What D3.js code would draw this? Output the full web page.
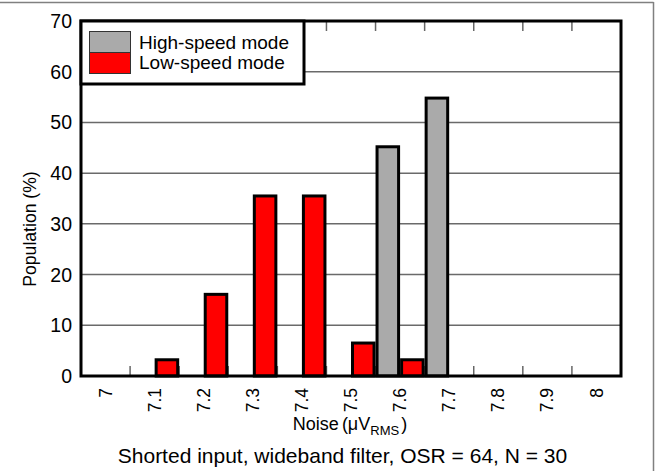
<!DOCTYPE html>
<html>
<head>
<meta charset="utf-8">
<script src="https://cdn.jsdelivr.net/npm/d3@7/dist/d3.min.js"></script>
<style>
  html, body { margin: 0; padding: 0; background: #fff; }
  svg { display: block; font-family: "Liberation Sans", Arial, sans-serif; }
</style>
</head>
<body>
<svg id="chart" width="662" height="471"></svg>
<script>
// ---- data ----
const categories = ["7", "7.1", "7.2", "7.3", "7.4", "7.5", "7.6", "7.7", "7.8", "7.9", "8"];
const highSpeed = [0, 0, 0, 0, 0, 0, 45.2, 54.8, 0, 0, 0];
const lowSpeed  = [0, 3.2, 16.1, 35.5, 35.5, 6.5, 3.2, 0, 0, 0, 0];
const seriesNames = ["High-speed mode", "Low-speed mode"];
const seriesColors = ["#aaaaaa", "#ff0000"];
const yTicks = [0, 10, 20, 30, 40, 50, 60, 70];

// ---- layout ----
const pL = 81, pR = 621, pT = 21, pB = 376;
const svg = d3.select("#chart");

// outer frame (top and right only)
svg.append("line").attr("x1", 0).attr("x2", 653.5).attr("y1", 2.5).attr("y2", 2.5)
  .attr("stroke", "#808080").attr("stroke-width", 1.5);
svg.append("line").attr("x1", 653.5).attr("x2", 653.5).attr("y1", 2).attr("y2", 471)
  .attr("stroke", "#808080").attr("stroke-width", 1.5);

const x = d3.scaleBand().domain(categories).range([pL, pR]).paddingInner(0).paddingOuter(0);
const xs = d3.scaleBand().domain([0, 1]).range([0, x.bandwidth()]).padding(0);
const y = d3.scaleLinear().domain([0, 70]).range([pB, pT]);

// gridlines
svg.append("g").selectAll("line").data(yTicks.filter(t => t > 0 && t < 70)).join("line")
  .attr("x1", pL).attr("x2", pR)
  .attr("y1", d => y(d)).attr("y2", d => y(d))
  .attr("stroke", "#6a6a6a").attr("stroke-width", 1.5);

// tick marks at band boundaries (top and bottom, inside)
const bounds = categories.slice(0, -1).map(c => x(c) + x.bandwidth());
svg.append("g").selectAll("line").data(bounds).join("line")
  .attr("x1", d => d).attr("x2", d => d).attr("y1", pT).attr("y2", pT + 10)
  .attr("stroke", "#666").attr("stroke-width", 1.5);
svg.append("g").selectAll("line").data(bounds).join("line")
  .attr("x1", d => d).attr("x2", d => d).attr("y1", pB).attr("y2", pB - 10)
  .attr("stroke", "#666").attr("stroke-width", 1.5);

// bars
const series = [highSpeed, lowSpeed];
series.forEach((vals, si) => {
  svg.append("g").selectAll("rect").data(categories.map((c, i) => ({c, v: vals[i]}))).join("rect")
    .attr("x", d => x(d.c) + xs(si) + 1.5)
    .attr("width", xs.bandwidth() - 3)
    .attr("y", d => y(d.v) - (d.v > 0 ? 0 : 2))
    .attr("height", d => y(0) - y(d.v))
    .attr("fill", seriesColors[si])
    .attr("stroke", d => d.v > 0 ? "#000" : (si === 1 ? "#777" : "none"))
    .attr("stroke-width", d => d.v > 0 ? 3 : 1.5);
});

// plot frame
svg.append("rect").attr("x", pL).attr("y", pT).attr("width", pR - pL).attr("height", pB - pT)
  .attr("fill", "none").attr("stroke", "#000").attr("stroke-width", 3);

// y tick labels
svg.append("g").selectAll("text").data(yTicks).join("text")
  .attr("x", 72).attr("y", d => y(d)).attr("dy", "0.36em")
  .attr("text-anchor", "end").attr("font-size", 19.5).attr("fill", "#000")
  .text(d => d);

// x tick labels (rotated)
svg.append("g").selectAll("text").data(categories).join("text")
  .attr("transform", d => `translate(${x(d) + x.bandwidth() / 2},388) rotate(-90)`)
  .attr("dy", "0.35em").attr("text-anchor", "end")
  .attr("font-size", 17.5).attr("fill", "#000")
  .text(d => d);

// y axis title
svg.append("text").attr("transform", "translate(30,229) rotate(-90)")
  .attr("text-anchor", "middle").attr("dy", "0.35em").attr("font-size", 17.6)
  .text("Population (%)");

// x axis title
const xt = svg.append("text").attr("x", 350).attr("y", 430).attr("font-size", 18)
  .attr("text-anchor", "middle");
xt.append("tspan").text("Noise");
xt.append("tspan").attr("dx", 3).text("(\u03bcV");
xt.append("tspan").attr("font-size", 13).attr("dy", 5).text("RMS");
xt.append("tspan").attr("dy", -5).attr("dx", 2).text(")");

// footer
svg.append("text").attr("x", 342.5).attr("y", 463).attr("text-anchor", "middle")
  .attr("font-size", 21).text("Shorted input, wideband filter, OSR = 64, N = 30");

// legend
const lg = svg.append("g");
lg.append("rect").attr("x", pL).attr("y", pT).attr("width", 223).attr("height", 63)
  .attr("fill", "#fff").attr("stroke", "#000").attr("stroke-width", 3);
seriesNames.forEach((name, i) => {
  lg.append("rect").attr("x", 89.5).attr("y", 31.5 + i * 21).attr("width", 41).attr("height", 21)
    .attr("fill", seriesColors[i]).attr("stroke", "#333").attr("stroke-width", 1);
  lg.append("text").attr("x", 139).attr("y", 48.5 + i * 20.5).attr("font-size", 19).text(name);
});
</script>
</body>
</html>
